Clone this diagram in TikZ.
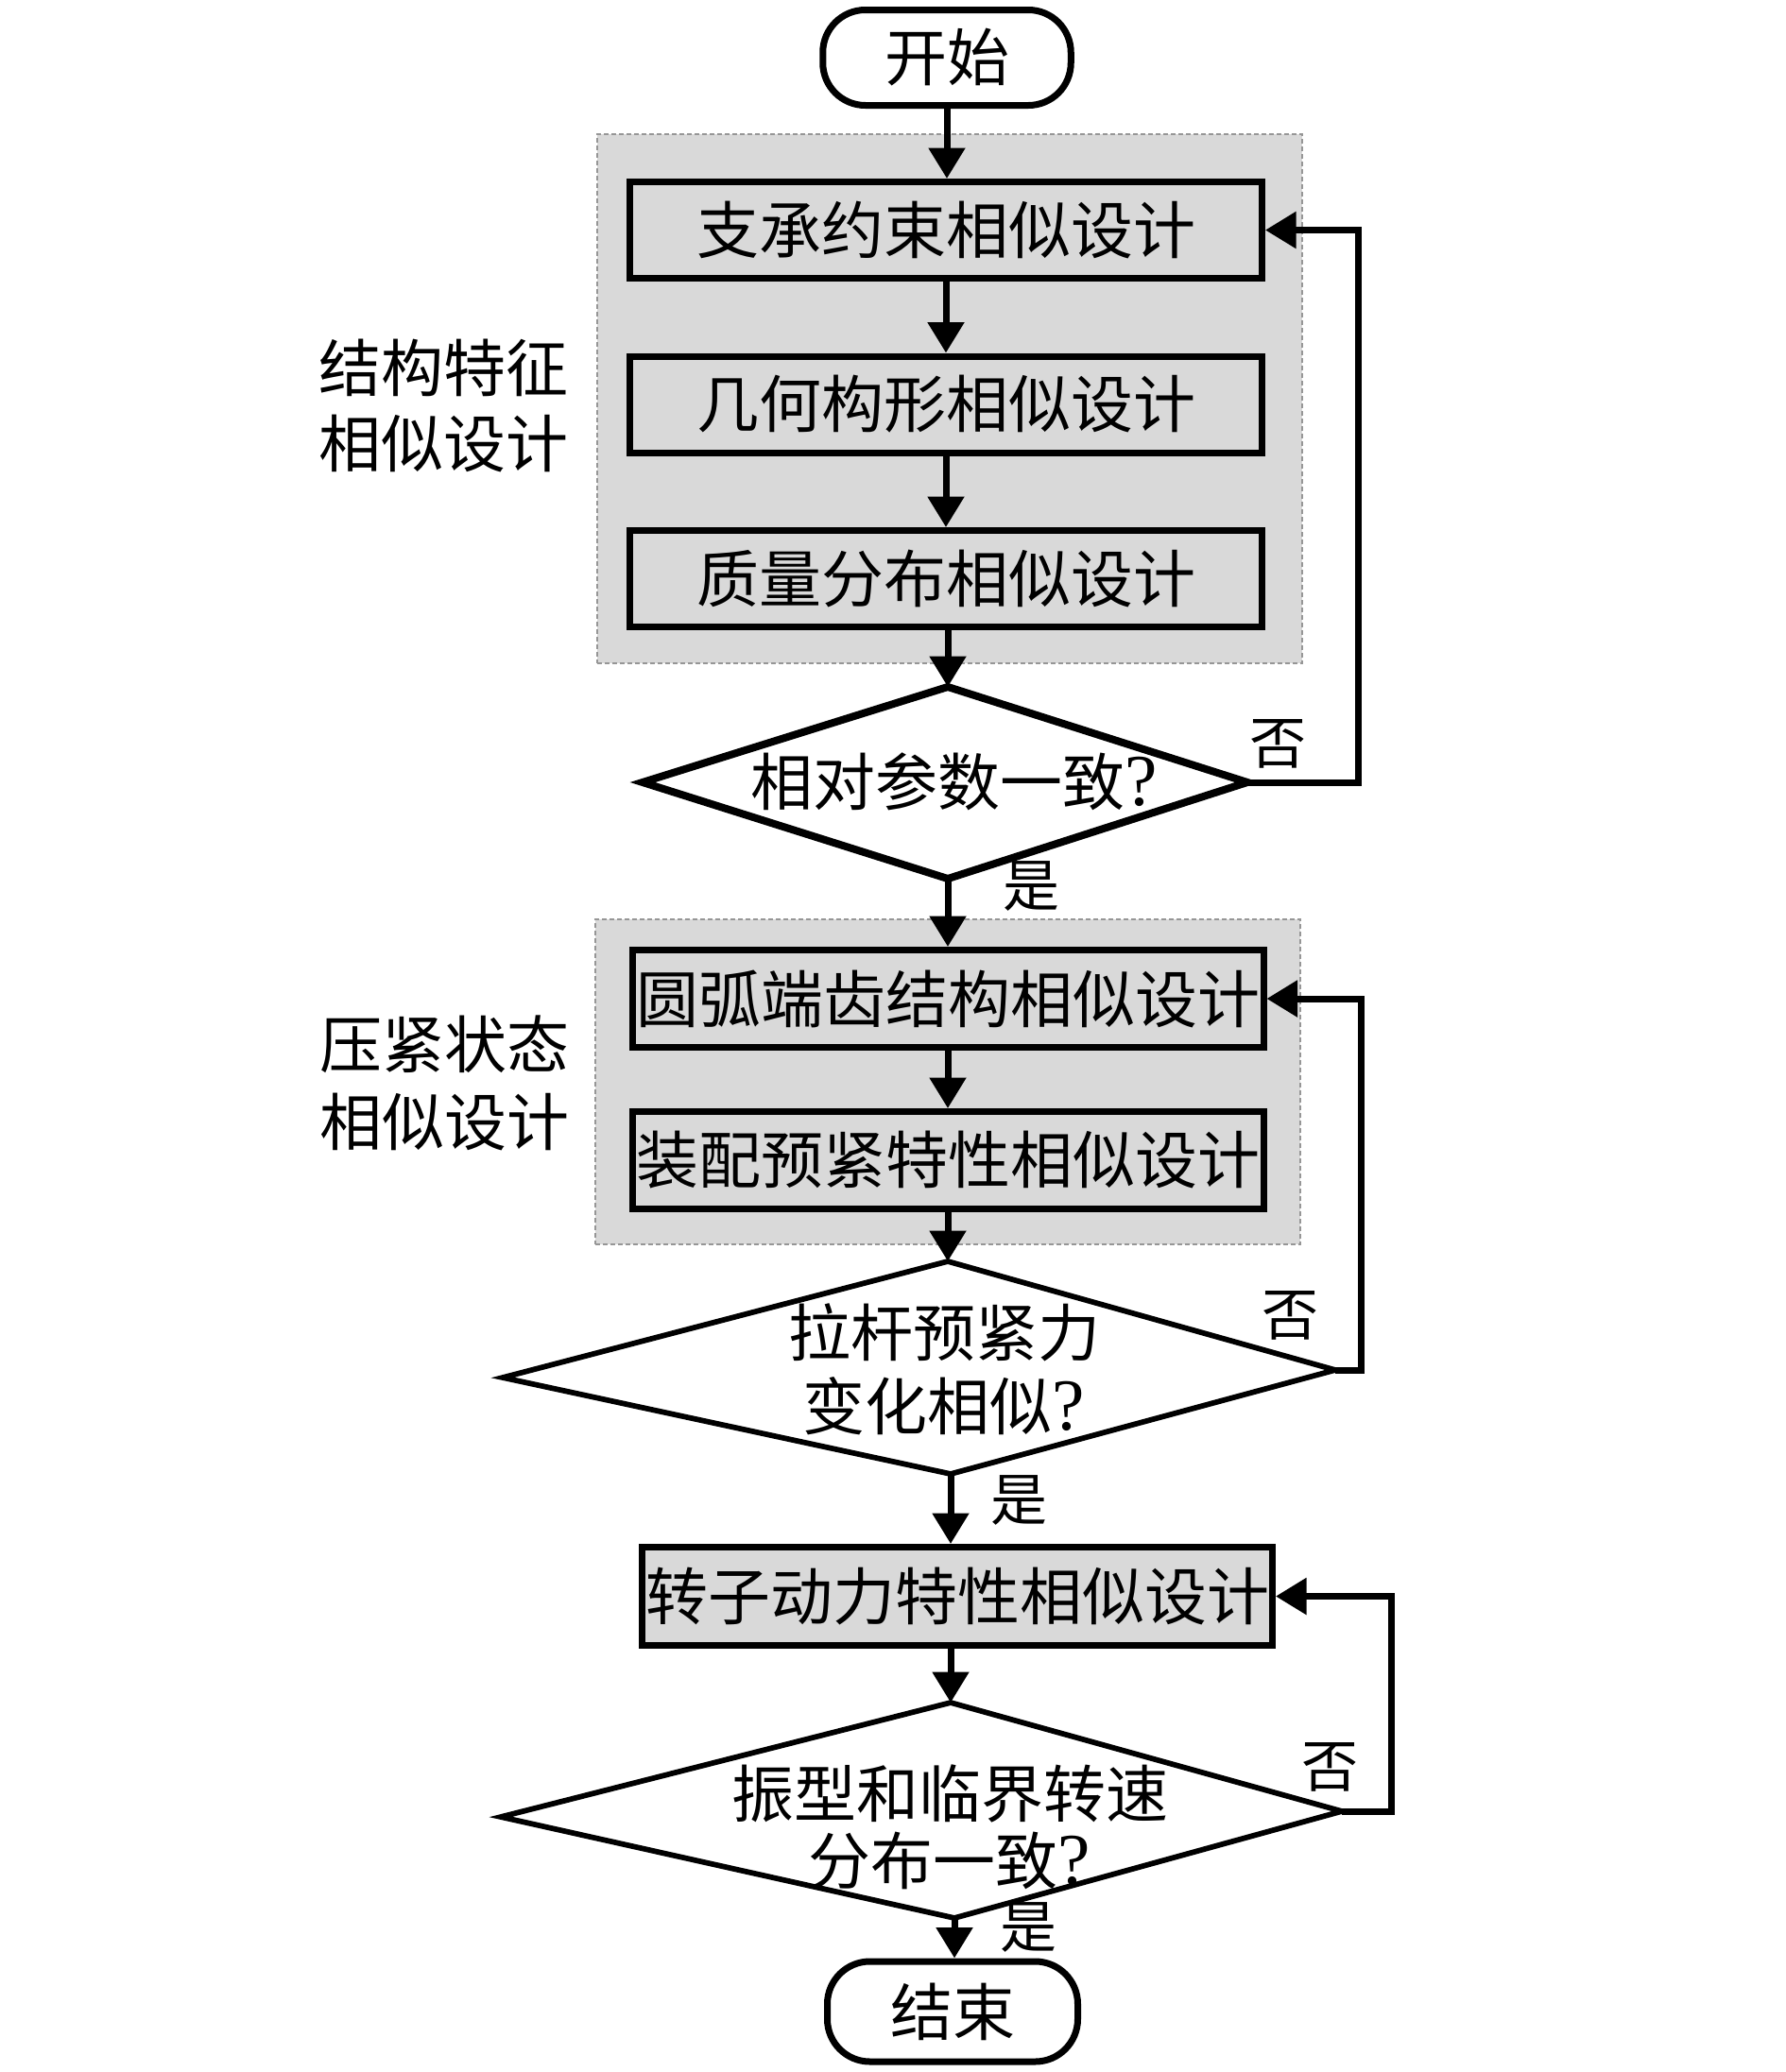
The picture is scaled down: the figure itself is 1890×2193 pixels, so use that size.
\documentclass[tikz,border=0pt]{standalone}
\usepackage{fontspec}
\setmainfont{Noto Sans CJK SC}
\newfontfamily\lat{Liberation Serif}
\usetikzlibrary{arrows.meta}
\definecolor{boxgray}{RGB}{217,217,217}
\definecolor{dashgray}{RGB}{150,150,150}
\newcommand\mainsz{\fontsize{26.4pt}{31pt}\selectfont}
\newcommand\ynsz{\fontsize{24pt}{28pt}\selectfont}
\newcommand\qm{{\lat\fontsize{31pt}{31pt}\selectfont ?}}
\begin{document}
\begin{tikzpicture}[x=0.4pt,y=-0.4pt,
  proc/.style={draw, line width=2.8pt, fill=boxgray, inner sep=0pt, font=\mainsz},
  term/.style={draw, line width=2.8pt, rounded corners=18pt, fill=white, inner sep=0pt,
    minimum width=105pt, minimum height=40.4pt, font=\mainsz},
  grp/.style={draw=dashgray, fill=boxgray, dash pattern=on 2pt off 1.2pt, line width=0.8pt, inner sep=0pt},
  arr/.style={line width=2.8pt, -{Triangle[length=13pt,width=15pt]}},
  fb/.style={line width=2.8pt, line join=miter, -{Triangle[length=13pt,width=15pt]}},
  diathick/.style={draw, line width=3.2pt, line join=miter},
  diathin/.style={draw, line width=2.3pt, line join=miter},
  txt/.style={align=center, inner sep=0pt},
  yn/.style={font=\ynsz, inner sep=0pt}]
\useasboundingbox (0,0) rectangle (1890,2193);

% background groups
\node[grp, minimum width=298.4pt, minimum height=224pt] (g1) at (1005,422) {};
\node[grp, minimum width=298.4pt, minimum height=137.6pt] (g2) at (1003,1145) {};

% terminals
\node[term] (st) at (1002,61) {开始};
\node[term, minimum width=106pt, minimum height=42.4pt] (en) at (1008,2129) {结束};

% process boxes
\node[proc, minimum width=267.6pt, minimum height=40.8pt] (b1) at (1001,243.5) {支承约束相似设计};
\node[proc, minimum width=267.6pt, minimum height=40.8pt] (b2) at (1001,428) {几何构形相似设计};
\node[proc, minimum width=267.6pt, minimum height=40.8pt] (b3) at (1001,612.5) {质量分布相似设计};
\node[proc, minimum width=267.2pt, minimum height=41.2pt] (b4) at (1003,1057) {圆弧端齿结构相似设计};
\node[proc, minimum width=267.2pt, minimum height=41.2pt] (b5) at (1003,1228) {装配预紧特性相似设计};
\node[proc, minimum width=266.8pt, minimum height=41.6pt] (b6) at (1013,1689.5) {转子动力特性相似设计};

% diamond 1
\coordinate (d1n) at (1003,727);
\coordinate (d1e) at (1320,828);
\coordinate (d1s) at (1003,930);
\coordinate (d1w) at (680,828);
\draw[diathick] (d1n) -- (d1e) -- (d1s) -- (d1w) -- cycle;
\node[txt, font=\mainsz] (d1) at (1010,827) {相对参数一致\qm};

% diamond 2
\coordinate (d2n) at (1003,1335);
\coordinate (d2e) at (1413,1450);
\coordinate (d2s) at (1006,1560);
\coordinate (d2w) at (532,1458);
\draw[diathin] (d2n) -- (d2e) -- (d2s) -- (d2w) -- cycle;
\node[txt, font=\fontsize{26.4pt}{31.2pt}\selectfont] (d2) at (999,1449) {拉杆预紧力\\变化相似\qm};

% diamond 3
\coordinate (d3n) at (1006,1802);
\coordinate (d3e) at (1420,1917);
\coordinate (d3s) at (1010,2030);
\coordinate (d3w) at (530,1923);
\draw[diathin] (d3n) -- (d3e) -- (d3s) -- (d3w) -- cycle;
\node[txt, font=\fontsize{26.4pt}{28.4pt}\selectfont] (d3) at (1005,1934) {振型和临界转速\\分布一致\qm};

% side labels
\node[txt, font=\fontsize{26.4pt}{32pt}\selectfont] (l1) at (469,429) {结构特征\\相似设计};
\node[txt, font=\fontsize{26.4pt}{32.8pt}\selectfont] (l2) at (470,1146) {压紧状态\\相似设计};

% yes / no labels
\node[yn] (no1) at (1352,787) {否};
\node[yn] (yes1) at (1091,938) {是};
\node[yn] (no2) at (1365,1392) {否};
\node[yn] (yes2) at (1078,1588) {是};
\node[yn] (no3) at (1407,1870) {否};
\node[yn] (yes3) at (1088,2040) {是};

% main flow
\draw[arr] (st.south) -- (st.south |- b1.north);
\draw[arr] (b1.south) -- (b1.south |- b2.north);
\draw[arr] (b2.south) -- (b2.south |- b3.north);
\draw[arr] (b3.south -| d1n) -- (d1n);
\draw[arr] (d1s) -- (d1s |- b4.north);
\draw[arr] (b4.south) -- (b4.south |- b5.north);
\draw[arr] (b5.south -| d2n) -- (d2n);
\draw[arr] (d2s) -- (d2s |- b6.north);
\draw[arr] (b6.south -| d3n) -- (d3n);
\draw[arr] (d3s) -- (d3s |- en.north);

% feedback loops
\coordinate (fb1) at (1437,828);
\coordinate (fb2) at (1440,1450);
\coordinate (fb3) at (1472,1917);
\draw[fb] (d1e) -- (fb1) -- (fb1 |- b1.east) -- (b1.east);
\draw[fb] (d2e) -- (fb2) -- (fb2 |- b4.east) -- (b4.east);
\draw[fb] (d3e) -- (fb3) -- (fb3 |- b6.east) -- (b6.east);
\end{tikzpicture}
\end{document}
